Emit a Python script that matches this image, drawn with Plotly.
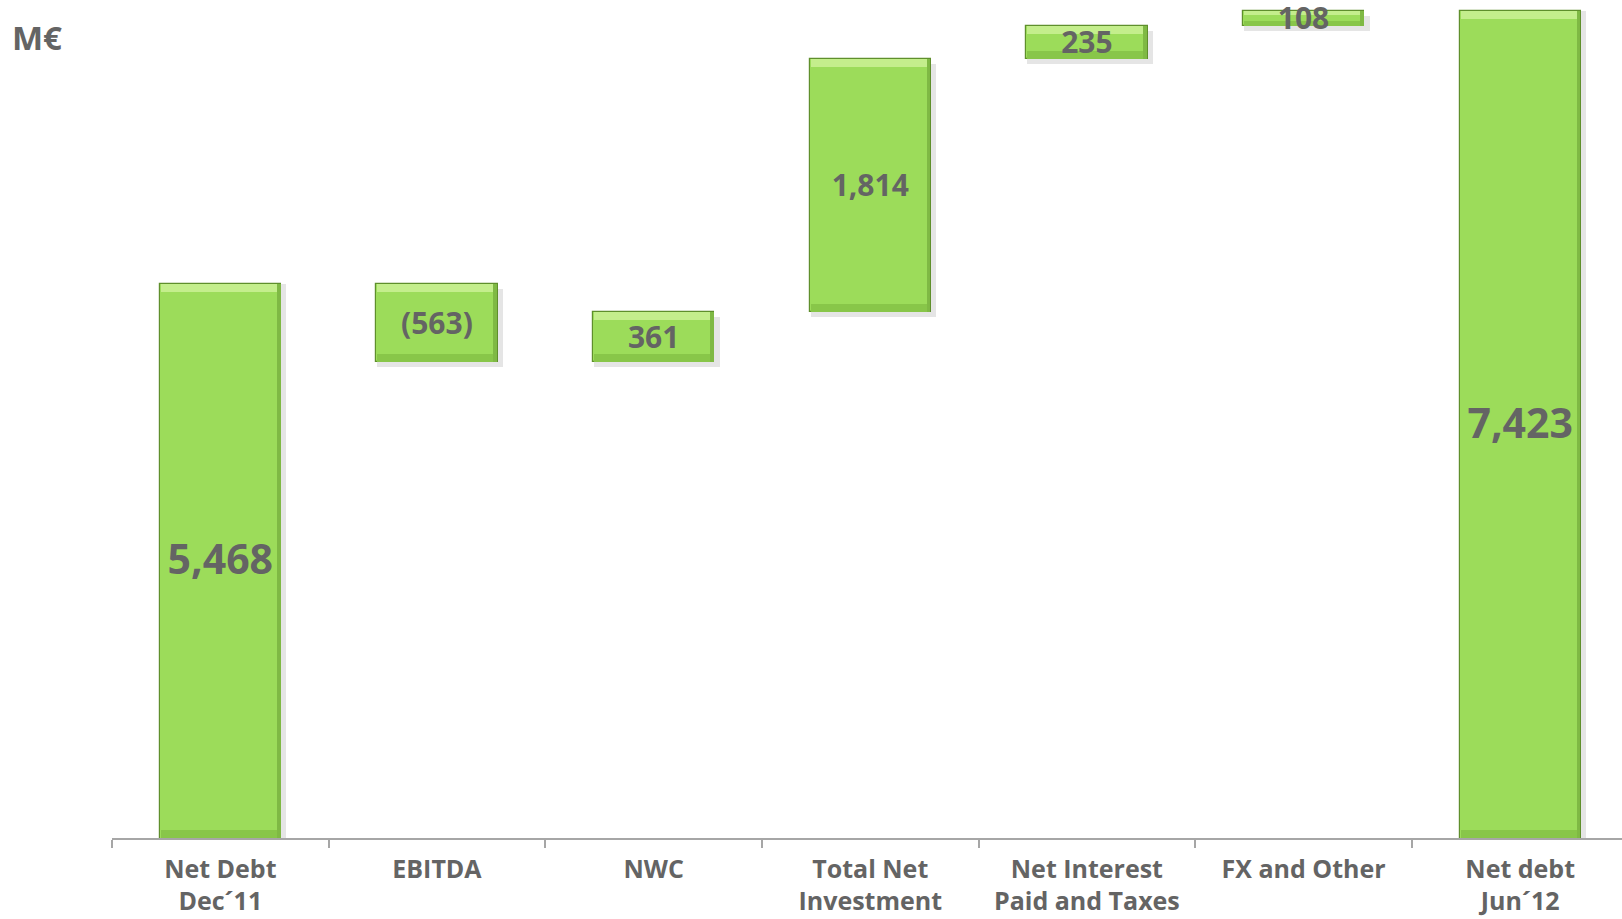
import plotly.graph_objects as go

# Net debt bridge, M€
categories = ["Net Debt<br>Dec´11", "EBITDA", "NWC", "Total Net<br>Investment",
              "Net Interest<br>Paid and Taxes", "FX and Other", "Net debt<br>Jun´12"]
values = [5468, -563, 361, 1814, 235, 108, 7423]
is_total = [True, False, False, False, False, False, True]

Y_MIN, Y_MAX = 1500, 7500
PLOT_H = 838  # pixel height of the plot area
UNIT_PX = PLOT_H / (Y_MAX - Y_MIN)

# floating segment for every step of the bridge
bottoms, tops = [], []
running = 0
for v, tot in zip(values, is_total):
    if tot:
        lo, hi = 0, v
        running = v
    else:
        start = running
        running = running + v
        lo, hi = min(start, running), max(start, running)
    bottoms.append(lo)
    tops.append(hi)
heights = [t - b for t, b in zip(tops, bottoms)]
vis_bottoms = [max(b, Y_MIN) for b in bottoms]

def fmt(v):
    s = f"{abs(v):,}"
    return f"({s})" if v < 0 else s

GREEN = "#9cdc5a"
TEXT = "#646464"
BAR_W = 0.56

fig = go.Figure()

# soft drop shadow beneath each bar
sh = 5 / UNIT_PX
fig.add_trace(go.Bar(
    x=categories, y=heights, base=[max(b - sh, Y_MIN) if b > 0 else b for b in bottoms],
    width=BAR_W + 0.02, offset=-BAR_W / 2 + 0.005,
    marker=dict(color="rgba(0,0,0,0.10)", line=dict(width=0)),
    hoverinfo="skip", showlegend=False))

# main bars
fig.add_trace(go.Bar(
    x=categories, y=heights, base=bottoms, width=BAR_W,
    marker=dict(color=GREEN, line=dict(color="#5f8f2c", width=1.2)),
    hoverinfo="skip", showlegend=False))

# bevel: light band along the top, darker bands along the bottom and right side
band = [min(8 / UNIT_PX, h * 0.3) for h in heights]
fig.add_trace(go.Bar(
    x=categories, y=band, base=[t - b for t, b in zip(tops, band)], width=BAR_W - 0.01,
    marker=dict(color="#c4ee8c", line=dict(width=0)),
    hoverinfo="skip", showlegend=False))
fig.add_trace(go.Bar(
    x=categories, y=band, base=vis_bottoms, width=BAR_W - 0.01,
    marker=dict(color="#88c649", line=dict(width=0)),
    hoverinfo="skip", showlegend=False))
fig.add_trace(go.Bar(
    x=categories, y=[t - b for t, b in zip(tops, vis_bottoms)], base=vis_bottoms,
    width=0.018, offset=BAR_W / 2 - 0.02,
    marker=dict(color="#7fb944", line=dict(width=0)),
    hoverinfo="skip", showlegend=False))

# value labels at the middle of each bar
mids = [(b + t) / 2 - 3 / UNIT_PX for b, t in zip(vis_bottoms, tops)]
sizes = [41 if tot else 30 for tot in is_total]
fig.add_trace(go.Scatter(
    x=categories, y=mids, mode="text", text=[fmt(v) for v in values],
    textfont=dict(family="Open Sans", size=sizes, color=TEXT, weight="bold"),
    textposition="middle center", cliponaxis=False,
    hoverinfo="skip", showlegend=False))

fig.add_annotation(text="<b>M€</b>", xref="paper", yref="paper", x=-112 / 1510, y=1,
                   xanchor="left", yanchor="top", xshift=10, yshift=-13, showarrow=False,
                   font=dict(family="Open Sans", size=33, color=TEXT))

fig.update_layout(
    width=1622, height=919,
    margin=dict(l=112, r=0, t=0, b=81, autoexpand=False),
    paper_bgcolor="white", plot_bgcolor="white",
    barmode="overlay", bargap=0,
    font=dict(family="Open Sans", color=TEXT),
    xaxis=dict(type="category", range=[-0.5, 6.47], showgrid=False, automargin=False,
               showline=True, linecolor="#a6a6a6", linewidth=1.5,
               ticks="outside", tickson="boundaries", ticklen=8, tickcolor="#a6a6a6",
               tickwidth=1.5, ticklabelstandoff=8,
               tickfont=dict(family="Open Sans", size=25, color=TEXT, weight="bold")),
    yaxis=dict(range=[Y_MIN, Y_MAX], visible=False, automargin=False),
)

fig.write_html("out.html")
